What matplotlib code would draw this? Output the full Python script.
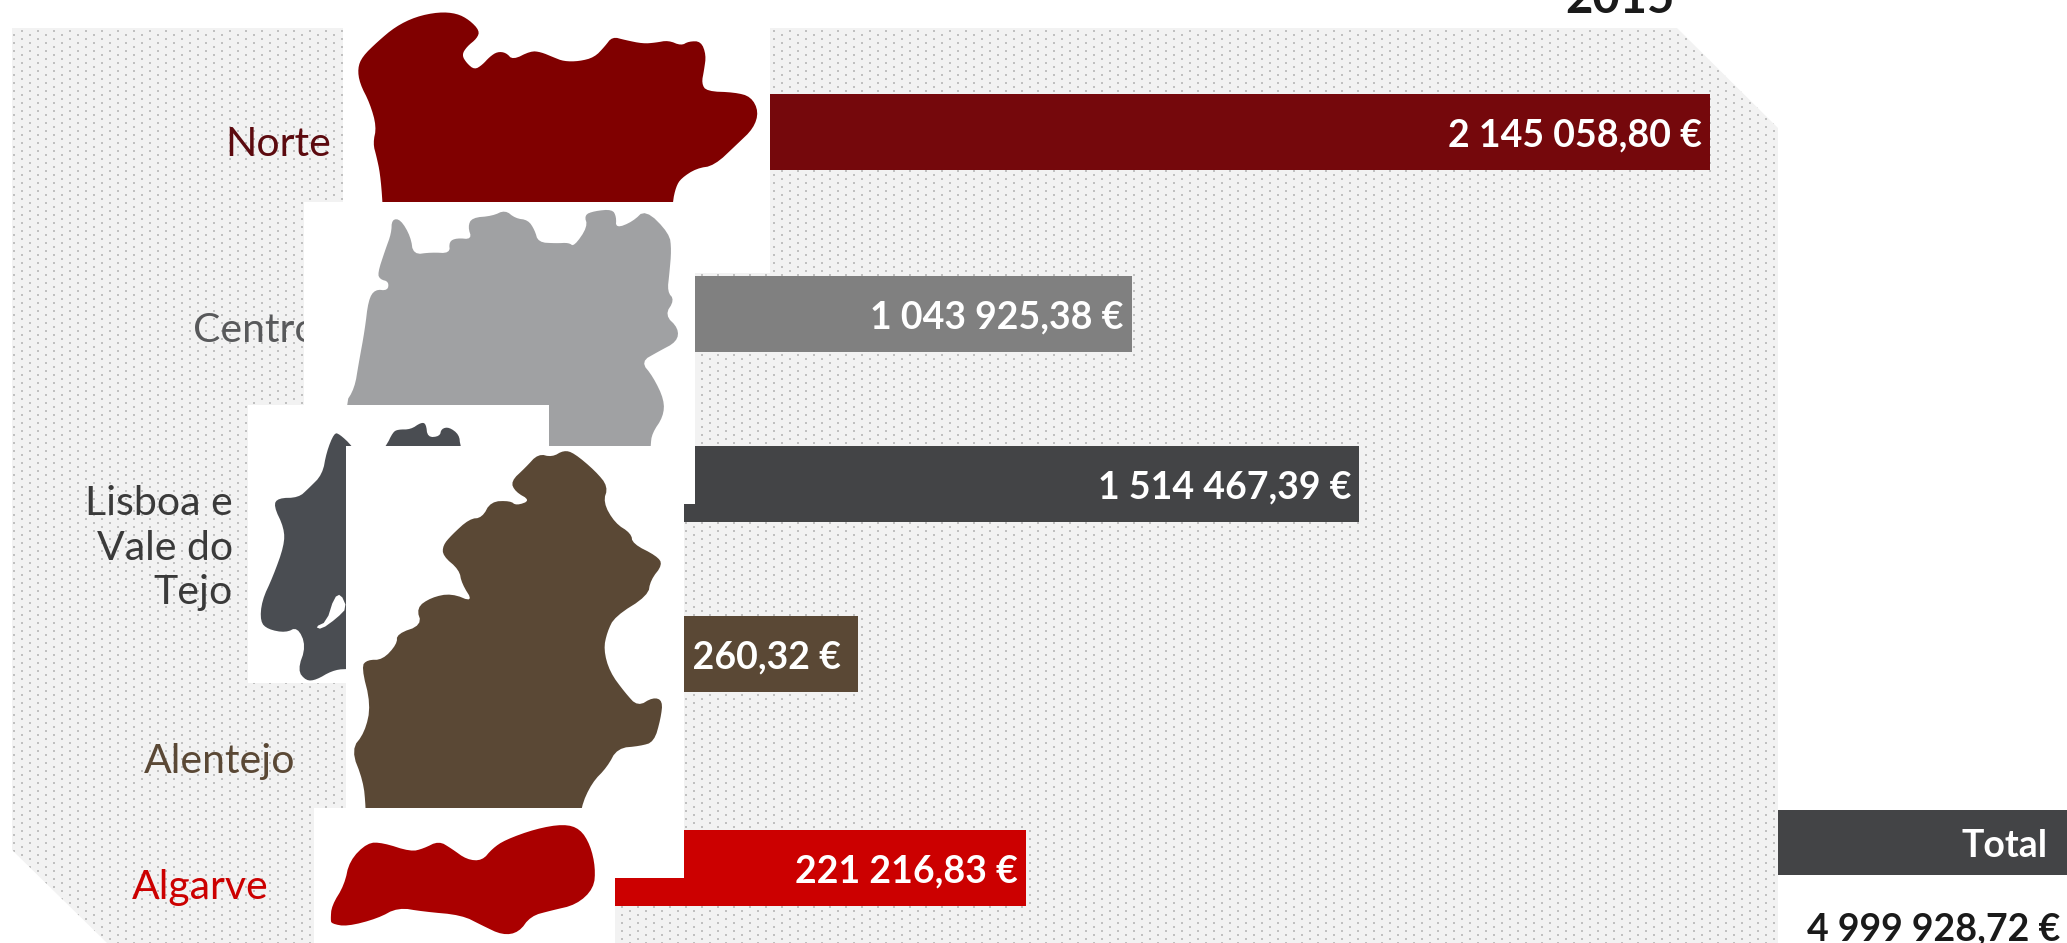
import numpy as np
import matplotlib
matplotlib.use("Agg")
import matplotlib.pyplot as plt
from matplotlib.patches import Polygon, Rectangle

# ---- data ----
regions = ["Norte", "Centro", "Lisboa e\nVale do\nTejo", "Alentejo", "Algarve"]
value_labels = ["2 145 058,80 €", "1 043 925,38 €", "1 514 467,39 €", "75 260,32 €", "221 216,83 €"]
drawn_lengths = [1110, 532, 759, 258, 426]   # bars are not to scale in the original
title_year = "2015"
total_label = "Total"
total_value = "4 999 928,72 €"

# ---- layout and style ----
W, H = 2067, 943
plt.rcParams["font.family"] = ["Lato", "DejaVu Sans"]
bar_left = 600
bar_centres = [132, 314, 484, 654, 868]
bar_height = 76
bar_colors = ["#75080C", "#808080", "#434446", "#5A4835", "#CC0000"]
map_colors = ["#800000", "#A0A1A3", "#4A4D52", "#5A4835", "#AA0000"]
label_colors = ["#5C0A0F", "#58595B", "#3A3A3A", "#5A4835", "#CC0000"]
label_right = [331, 318, 233, 295, 269]
label_y = [144, 331, 548, 762, 887]
value_pad = [8, 8, 8, 17, 8]

fig = plt.figure(figsize=(W / 100, H / 100), dpi=100, facecolor="white")
ax = fig.add_axes([0, 0, 1, 1])

# dotted backdrop with chamfered corners
img = np.full((H, W, 3), 0xF2, dtype=np.uint8)
for r0, c0 in ((30, 21), (34, 13)):
    for r in range(r0 % 8, H, 8):
        for dr in (0, 1):
            if r + dr < H:
                for dc in (0, 1):
                    img[r + dr, (c0 % 16 + dc)::16] = 0xC0
im = ax.imshow(img, extent=(0, W, H, 0), interpolation="nearest", aspect="auto", zorder=1)
ax.set_xlim(0, W)
ax.set_ylim(H, 0)
ax.axis("off")
clip = Polygon([(12, 28), (1677, 28), (1778, 128), (1778, H), (107, H), (12, 850)],
               transform=ax.transData, closed=True)
im.set_clip_path(clip)

# region labels, behind the map cut-outs
for name, x, y, c in zip(regions, label_right, label_y, label_colors):
    ax.text(x, y, name, ha="right", va="center", fontsize=29.5, weight="normal", color=c,
            linespacing=1.25, zorder=2)

# bars
ax.barh(bar_centres, drawn_lengths, left=bar_left, height=bar_height, color=bar_colors, zorder=3)
for yc, ln, lab, pad in zip(bar_centres, drawn_lengths, value_labels, value_pad):
    ax.text(bar_left + ln - pad, yc + 3, lab, ha="right", va="center", fontsize=27,
            color="white", weight="bold", zorder=4)

# map cut-outs
def chaikin(p, n=2):
    a = np.array(p, dtype=float)
    for _ in range(n):
        b = np.roll(a, -1, axis=0)
        a = np.column_stack([0.75 * a + 0.25 * b, 0.25 * a + 0.75 * b]).reshape(-1, 2)
    return a

def sx(p):
    return chaikin([(x / 1.96, y / 3) for x, y in p])

def sy(p):
    return chaikin([(x / 1.96, 400 + y / 2.887) for x, y in p])

norte = sx([(752,720),(750,608),(745,520),(738,470),(731,430),(738,380),(725,310),(705,250),(701,205),(710,170),
    (740,125),(775,80),(815,50),(860,36),(895,40),(920,60),(940,92),(935,115),(915,140),(905,165),
    (915,190),(930,209),(945,195),(960,170),(975,155),(992,158),(1005,180),(1040,153),(1060,156),
    (1085,172),(1105,184),(1135,184),(1165,172),(1185,140),(1200,110),(1225,120),(1260,131),
    (1285,128),(1310,121),(1335,137),(1350,124),(1374,124),(1384,165),(1380,210),(1375,250),
    (1385,274),(1440,277),(1472,290),(1487,335),(1477,385),(1445,432),(1400,497),(1365,505),
    (1335,535),(1325,560),(1318,608),(1316,720)])
centro = sx([(675,1214),(695,1165),(703,1090),(715,990),(722,900),(735,868),(760,872),(762,845),
    (745,838),(740,820),(755,750),(767,700),(768,658),(785,658),(805,710),(810,764),(845,757),
    (882,760),(880,725),(895,714),(925,718),(917,680),(925,653),(965,648),(990,630),(1010,655),
    (1035,660),(1048,690),(1055,727),(1090,730),(1115,728),(1125,740),(1152,680),(1145,645),
    (1165,633),(1200,628),(1208,650),(1207,685),(1240,665),(1265,628),(1312,700),(1316,750),
    (1312,820),(1308,875),(1322,900),(1303,945),(1330,985),(1327,1025),(1290,1055),(1256,1085),
    (1280,1130),(1302,1200),(1300,1250),(1278,1300),(1275,1338),(1274,1420),(700,1420)])
lisboa = sy([(655,95),(665,98),(690,132),(720,200),(757,133),(770,93),(780,85),(805,85),(825,65),
    (835,68),(838,108),(862,105),(865,83),(880,78),(900,100),(902,133),(950,400),(900,775),(678,775),
    (650,782),(620,808),(600,811),(583,780),(600,710),(583,655),(560,672),(525,662),(510,640),
    (513,580),(535,510),(557,420),(557,370),(536,305),(545,283),(585,282),(605,255),(632,215),(640,150)])
lagoon = chaikin([(x / 1.96, 400 + y / 2.887) for x, y in
                  [(618,655),(640,640),(655,570),(668,560),(680,600),(660,630),(630,662)]], 1)
alentejo = sy([(717,1260),(717,1177),(712,1100),(688,1010),(715,960),(727,880),(708,770),(720,750),(750,750),
    (778,705),(778,675),(827,650),(816,600),(845,570),(885,558),(928,584),(905,530),(900,490),
    (868,450),(868,420),(885,390),(920,343),(945,340),(962,293),(1000,291),(1012,305),(1040,290),
    (1010,265),(1001,235),(1030,195),(1055,155),(1082,165),(1105,145),(1125,153),(1167,205),
    (1192,250),(1182,295),(1205,355),(1237,385),(1240,415),(1287,450),(1299,475),(1275,520),
    (1270,565),(1205,625),(1190,670),(1183,720),(1195,785),(1225,845),(1250,885),(1280,858),
    (1299,868),(1295,920),(1282,987),(1255,999),(1210,1005),(1190,1060),(1160,1105),(1138,1177),(1135,1260)])
algarve = sy([(648,1500),(650,1460),(675,1400),(685,1330),(720,1278),(750,1278),(805,1304),(830,1295),
    (860,1273),(885,1295),(915,1327),(945,1330),(965,1295),(990,1270),(1050,1238),(1105,1224),
    (1137,1238),(1157,1285),(1167,1350),(1164,1410),(1130,1457),(1080,1474),(1040,1490),(1017,1537),
    (985,1545),(945,1517),(905,1487),(830,1477),(780,1465),(740,1497),(680,1520),(650,1512)])

layers = [
    ((343, 0, 770, 273), norte, map_colors[0]),
    ((304, 202, 695, 446), centro, map_colors[1]),
    ((248, 405, 549, 683), lisboa, map_colors[2]),
    ((346, 446, 684, 878), alentejo, map_colors[3]),
    ((314, 808, 615, 943), algarve, map_colors[4]),
]
z = 5
for (x0, y0, x1, y1), shape, col in layers:
    ax.add_patch(Rectangle((x0, y0), x1 - x0, y1 - y0, fc="white", ec="none", zorder=z))
    if shape is alentejo:
        ax.add_patch(Rectangle((684, 446), 11, 58, fc="white", ec="none", zorder=z))
    ax.add_patch(Polygon(shape, closed=True, fc=col, ec="none", zorder=z + 0.5))
    if shape is lisboa:
        ax.add_patch(Polygon(lagoon, closed=True, fc="white", ec="none", zorder=z + 0.6))
    z += 1

# total block and title
ax.add_patch(Rectangle((1778, 810), W - 1778, 65, fc="#434446", ec="none", zorder=3))
ax.text(2048, 846, total_label, ha="right", va="center", fontsize=27, color="white",
        weight="bold", zorder=4)
ax.text(2060, 940, total_value, ha="right", va="baseline", fontsize=27, color="#1A1A1A",
        weight="bold", zorder=4)
ax.text(1620, 13, title_year, ha="center", va="baseline", fontsize=34, color="#1A1A1A",
        weight="bold", zorder=4)

fig.savefig("out.png", dpi=100, facecolor="white")
